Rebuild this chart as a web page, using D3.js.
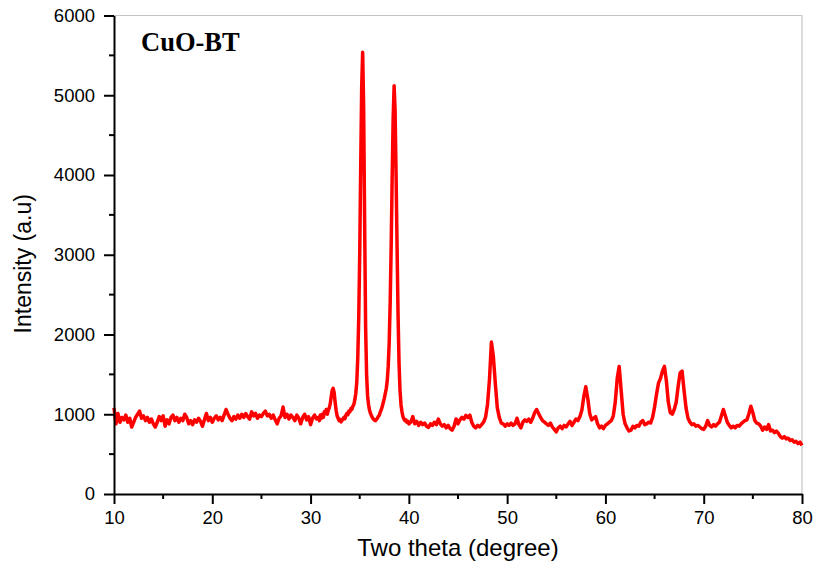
<!DOCTYPE html>
<html>
<head>
<meta charset="utf-8">
<script src="https://cdn.jsdelivr.net/npm/d3@7"></script>
<style>
  html, body { margin: 0; padding: 0; background: #fff; }
  svg { display: block; }
</style>
</head>
<body>
<svg id="chart" width="814" height="564"></svg>
<script>
// XRD scan of CuO-BT: intensity (counts) vs 2θ, stored in three scan segments.
// Segment 1: 10.0°–30.8°, step 0.2°
const segLowStart = 10.0, segLowStep = 0.2;
const countsLow = [
  1080, 880, 1010, 900, 960, 930, 990, 900, 950, 840,
  900, 960, 1000, 1040, 950, 980, 920, 960, 900, 940,
  880, 840, 900, 970, 920, 980, 850, 930, 880, 960,
  990, 920, 960, 900, 950, 920, 1000, 960, 880, 920,
  870, 930, 900, 950, 910, 850, 930, 1010, 920, 960,
  900, 950, 980, 930, 960, 920, 990, 1060, 1000, 950,
  920, 970, 940, 990, 950, 1000, 960, 1010, 970, 940,
  1030, 980, 1010, 950, 990, 970, 1010, 1040, 980, 1000,
  950, 990, 930, 880, 950, 980, 1090, 960, 1000, 940,
  990, 960, 920, 990, 950, 880, 960, 1000, 930, 970,
  870, 950, 990, 940, 960
];
// Segment 2: 30.9°–40.0°, step 0.1° (main CuO reflections)
const segPeakStart = 30.9, segPeakStep = 0.1;
const countsPeaks = [
  920, 990, 950, 1000, 960, 1030, 1010, 1060, 1000, 1050,
  1080, 1130, 1220, 1300, 1325, 1270, 1150, 1050, 980, 950,
  920, 935, 905, 925, 940, 960, 945, 990, 1010, 995,
  1040, 1030, 1070, 1060, 1100, 1120, 1180, 1260, 1400, 1700,
  2200, 3000, 4100, 5100, 5540, 4850, 3400, 2100, 1500, 1230,
  1120, 1050, 1010, 980, 955, 940, 925, 920, 935, 950,
  975, 990, 1030, 1060, 1100, 1150, 1200, 1260, 1320, 1420,
  1600, 1900, 2400, 3100, 3950, 4700, 5120, 4800, 4000, 3100,
  2250, 1650, 1300, 1120, 1030, 970, 940, 920, 930, 900,
  910, 880
];
// Segment 3: 40.2°–80.0°, step 0.2°
const segHighStart = 40.2, segHighStep = 0.2;
const countsHigh = [
  900, 970, 880, 910, 860, 900, 870, 890, 850, 835,
  880, 860, 900, 870, 940, 880, 850, 870, 830, 860,
  820, 800, 850, 940, 880, 930, 960, 940, 985, 960,
  990, 900, 850, 830, 860, 840, 870, 900, 960, 1120,
  1430, 1905, 1720, 1380, 1080, 960, 890, 880, 850, 880,
  860, 890, 860, 880, 950, 870, 830, 900, 930, 910,
  940, 900, 950, 1020, 1060, 1010, 960, 920, 900, 880,
  860, 890, 840, 810, 780, 830, 850, 820, 860, 840,
  880, 910, 860, 900, 940, 920, 970, 1050, 1220, 1345,
  1200, 1010, 930, 950, 970, 880, 830, 850, 820, 860,
  880, 900, 920, 980, 1150, 1450, 1600, 1300, 1000, 880,
  830, 790, 800, 850, 830, 860, 850, 900, 920, 870,
  880, 900, 890, 960, 1090, 1250, 1390, 1450, 1540, 1600,
  1420, 1150, 1020, 1000, 1060, 1150, 1350, 1520, 1540, 1300,
  1080, 950, 900, 870, 880, 850, 860, 840, 820, 810,
  850, 920, 860, 840, 870, 850, 880, 900, 980, 1060,
  980, 900, 860, 830, 850, 830, 860, 850, 880, 900,
  920, 930, 1010, 1100, 1020, 920, 890, 880, 850, 800,
  840, 810, 870, 790, 800, 770, 790, 760, 720, 700,
  720, 690, 700, 670, 680, 650, 660, 630, 650, 610
];

const xMajorTicks = [10, 20, 30, 40, 50, 60, 70, 80];
const xMinorTicks = [15, 25, 35, 45, 55, 65, 75];
const yMajorTicks = [0, 1000, 2000, 3000, 4000, 5000, 6000];
const yMinorTicks = [500, 1500, 2500, 3500, 4500, 5500];

const sampleLabel = "CuO-BT";
const xTitle = "Two theta (degree)";
const yTitle = "Intensity (a.u)";

// Expand the segments into (2θ, counts) points.
function expand(start, step, counts) {
  return counts.map((c, i) => ({ angle: +(start + i * step).toFixed(2), counts: c }));
}
const scan = [].concat(
  expand(segLowStart, segLowStep, countsLow),
  expand(segPeakStart, segPeakStep, countsPeaks),
  expand(segHighStart, segHighStep, countsHigh)
);

const svg = d3.select("#chart");
const plot = { left: 114, right: 802, top: 15.5, bottom: 494 };

const x = d3.scaleLinear().domain([10, 80]).range([plot.left, plot.right]);
const y = d3.scaleLinear().domain([0, 6000]).range([plot.bottom, plot.top]);

const font = "'Liberation Sans', Arial, sans-serif";

// Frame: light top and right borders
svg.append("line")
  .attr("x1", plot.left).attr("x2", plot.right)
  .attr("y1", plot.top).attr("y2", plot.top)
  .attr("stroke", "#c4c4c4").attr("stroke-width", 1.2);
svg.append("line")
  .attr("x1", plot.right).attr("x2", plot.right)
  .attr("y1", plot.top).attr("y2", plot.bottom)
  .attr("stroke", "#c4c4c4").attr("stroke-width", 1.2);

// Intensity trace
const line = d3.line().x(d => x(d.angle)).y(d => y(d.counts));
svg.append("path")
  .datum(scan)
  .attr("d", line)
  .attr("fill", "none")
  .attr("stroke", "#ff0000")
  .attr("stroke-width", 3.5)
  .attr("stroke-linejoin", "round");

// Bottom axis
const xAxis = svg.append("g")
  .attr("transform", `translate(0,${plot.bottom})`)
  .call(d3.axisBottom(x).tickValues(xMajorTicks).tickSize(10).tickPadding(7).tickSizeOuter(0).tickFormat(d3.format("d")));
xAxis.append("g").selectAll("line").data(xMinorTicks).join("line")
  .attr("x1", d => x(d)).attr("x2", d => x(d))
  .attr("y1", 0).attr("y2", 5)
  .attr("stroke", "#000").attr("stroke-width", 2);

// Left axis
const yAxis = svg.append("g")
  .attr("transform", `translate(${plot.left},0)`)
  .call(d3.axisLeft(y).tickValues(yMajorTicks).tickSize(10).tickPadding(9).tickSizeOuter(0).tickFormat(d3.format("d")));
yAxis.append("g").selectAll("line").data(yMinorTicks).join("line")
  .attr("x1", 0).attr("x2", -5)
  .attr("y1", d => y(d)).attr("y2", d => y(d))
  .attr("stroke", "#000").attr("stroke-width", 2);

[xAxis, yAxis].forEach(g => {
  g.select(".domain").attr("stroke", "#000").attr("stroke-width", 2);
  g.selectAll(".tick line").attr("stroke", "#000").attr("stroke-width", 2);
  g.selectAll(".tick text")
    .attr("fill", "#000")
    .style("font-family", font)
    .style("font-size", "18.5px");
});

// Axis titles
svg.append("text")
  .attr("x", (plot.left + plot.right) / 2)
  .attr("y", 556)
  .attr("text-anchor", "middle")
  .style("font-family", font)
  .style("font-size", "24px")
  .attr("fill", "#000")
  .text(xTitle);

svg.append("text")
  .attr("transform", `translate(31,${(plot.top + plot.bottom) / 2 + 9}) rotate(-90)`)
  .attr("text-anchor", "middle")
  .style("font-family", font)
  .style("font-size", "23px")
  .attr("fill", "#000")
  .text(yTitle);

// Sample label
svg.append("text")
  .attr("x", 141)
  .attr("y", 50.5)
  .style("font-family", "'Liberation Serif', 'Times New Roman', serif")
  .style("font-weight", "bold")
  .style("font-size", "26.5px")
  .attr("fill", "#000")
  .text(sampleLabel);
</script>
</body>
</html>
